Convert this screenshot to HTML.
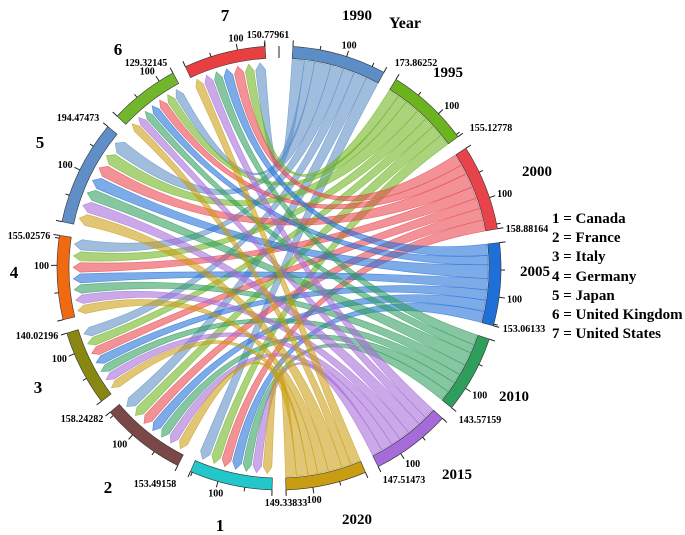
<!DOCTYPE html>
<html><head><meta charset="utf-8"><style>
html,body{margin:0;padding:0;background:#fff;}
svg{display:block;font-family:"Liberation Serif",serif;font-weight:bold;}
</style></head><body>
<svg id="chart" width="685" height="535" viewBox="0 0 685 535" xmlns="http://www.w3.org/2000/svg">
<g id="ribbons"></g>
<g id="tracks"></g>
<g id="labels"></g>
<line x1="279" y1="46" x2="279" y2="58" stroke="#222" stroke-width="1"/>
<text x="405" y="28" font-size="16" text-anchor="middle">Year</text>
<g font-size="15">
<text x="552" y="223">1 = Canada</text>
<text x="552" y="242">2 = France</text>
<text x="552" y="261">3 = Italy</text>
<text x="552" y="281">4 = Germany</text>
<text x="552" y="300">5 = Japan</text>
<text x="552" y="319">6 = United Kingdom</text>
<text x="552" y="338">7 = United States</text>
</g>
</svg>
<script>
const years = ["1990","1995","2000","2005","2010","2015","2020"];
const countries = ["1","2","3","4","5","6","7"];
const yearTotals = [173.86252,155.12778,158.88164,153.06133,143.57159,147.51473,149.33833];
const countryTotals = [153.49158,158.24282,140.02196,155.02576,194.47473,129.32145,150.77961];
const flow1990 = [25,26,22,25,32,20,24];
const flow1995 = [22,23,20,22,28,19,21];
const flow2000 = [22,23,21,23,28,19,23];
const flow2005 = [22,22,20,22,27,18,22];
const flow2010 = [20,21,19,21,26,17,20];
const flow2015 = [21,22,19,21,26,18,21];
const flow2020 = [21,22,19,21,27,18,20];
const matrix = [flow1990,flow1995,flow2000,flow2005,flow2010,flow2015,flow2020];

const yearColors = ["#5b8ec7","#6cb41e","#e8434a","#1f6fd8","#2f9d5c","#a56bd8","#c99d12"];
const countryColors = ["#22c7c9","#7b4848","#878712","#f06a12","#5f8fc6","#71b62c","#e84040"];
// label layout (positions, not data)
const yearNamePos = [[357,20],[448,77],[537,176],[535,276],[514,401],[457,479],[357,524]];
const countryNamePos = [[220,531],[108,493],[38,393],[14,278],[40,148],[118,55],[225,21]];
const yearTotPos = [[416,66],[491,131],[527,232],[524,332],[480,423],[404,483],[286,506]];
const countryTotPos = [[155,487],[82,422],[37,339],[29,239],[78,121],[146,66],[268,38]];

const NS="http://www.w3.org/2000/svg";
const cx=279, cy=268, R=222, RI=210, RL=209;
const GAP=3.6, TOPGAP=7.2;
const grand = yearTotals.reduce((a,b)=>a+b,0)+countryTotals.reduce((a,b)=>a+b,0);
const K=(360-13*GAP-TOPGAP)/grand;
function pt(r,deg){const t=deg*Math.PI/180;return [cx+r*Math.sin(t),cy-r*Math.cos(t)];}
function mk(tag,attrs,parent){const e=document.createElementNS(NS,tag);for(const k in attrs)e.setAttribute(k,attrs[k]);parent.appendChild(e);return e;}

const ySec=[],cSec=[];
let a=TOPGAP/2;
yearTotals.forEach(v=>{ySec.push([a,a+v*K]);a+=v*K+GAP;});
countryTotals.forEach(v=>{cSec.push([a,a+v*K]);a+=v*K+GAP;});

function arcPath(r1,r2,s,e){
  const p1=pt(r2,s),p2=pt(r2,e),p3=pt(r1,e),p4=pt(r1,s);const lg=(e-s)>180?1:0;
  return `M${p1[0]},${p1[1]}A${r2},${r2} 0 ${lg} 1 ${p2[0]},${p2[1]}L${p3[0]},${p3[1]}A${r1},${r1} 0 ${lg} 0 ${p4[0]},${p4[1]}Z`;
}

const ySub = matrix.map((row,i)=>{const s=row.reduce((x,y)=>x+y,0);const span=ySec[i][1]-ySec[i][0];let cur=ySec[i][0];const res=new Array(7);
  for(let j=6;j>=0;j--){const w=row[j]/s*span;res[j]=[cur,cur+w];cur+=w;}return res;});
const cSub = countries.map((c,j)=>{let s=0;for(let i=0;i<7;i++)s+=matrix[i][j];const span=cSec[j][1]-cSec[j][0];let cur=cSec[j][0];const res=new Array(7);
  for(let i=6;i>=0;i--){const w=matrix[i][j]/s*span;res[i]=[cur,cur+w];cur+=w;}return res;});

const rg=document.getElementById('ribbons');
for(let i=0;i<7;i++){for(let j=0;j<7;j++){
  const [s0,s1]=ySub[i][j];
  let [t0,t1]=cSub[j][i];
  const pad=(t1-t0)*0.08; t0+=pad; t1-=pad;
  const tip=RI-4, base=RI-11;
  const A=pt(RL,s0),B=pt(RL,s1),C=pt(base,t0),M=pt(tip,(t0+t1)/2),D=pt(base,t1);
  const d=`M${A[0]},${A[1]}A${RL},${RL} 0 0 1 ${B[0]},${B[1]}Q${cx},${cy} ${C[0]},${C[1]}L${M[0]},${M[1]}L${D[0]},${D[1]}Q${cx},${cy} ${A[0]},${A[1]}Z`;
  const p=mk('path',{d:d,fill:yearColors[i],'fill-opacity':0.58,stroke:yearColors[i],'stroke-opacity':0.7,'stroke-width':0.6},rg);
  
  
}}

const tg=document.getElementById('tracks'), lg=document.getElementById('labels');
function drawSector(sec,total,color,name,namePos,totPos,kind){
  const g=mk('g',{},tg);
  
  
  const p=mk('path',{d:arcPath(RI,R,sec[0],sec[1]),fill:color,stroke:'#333','stroke-width':0.6},g);
  
  
  for(let v=0;v<total;v+=50){const ang=sec[0]+v*K;const len=(v%100===0)?6:4;const q1=pt(R,ang),q2=pt(R+len,ang);
    const l=mk('line',{x1:q1[0],y1:q1[1],x2:q2[0],y2:q2[1],stroke:'#222','stroke-width':1},g);
    
    }
  const q1=pt(R,sec[1]),q2=pt(R+6,sec[1]);
  const el=mk('line',{x1:q1[0],y1:q1[1],x2:q2[0],y2:q2[1],stroke:'#222','stroke-width':1},g);
  
  
  const ang=sec[0]+100*K, sn=Math.sin(ang*Math.PI/180), cs=Math.cos(ang*Math.PI/180);
  const hp=pt(R+8,ang);
  const anc = sn>0.35?'start':(sn<-0.35?'end':'middle');
  const h=mk('text',{x:hp[0],y:hp[1]+3.5-4*cs,'font-size':10,'text-anchor':anc},lg);h.textContent='100';
  
  
  const t=mk('text',{x:totPos[0],y:totPos[1],'font-size':10,'text-anchor':'middle'},lg);t.textContent=total.toFixed(5);
  
  
  const n=mk('text',{x:namePos[0],y:namePos[1],'font-size':kind==='year'?15:17,'text-anchor':'middle'},lg);n.textContent=name;
  
  
}
years.forEach((y,i)=>drawSector(ySec[i],yearTotals[i],yearColors[i],y,yearNamePos[i],yearTotPos[i],'year'));
countries.forEach((c,j)=>drawSector(cSec[j],countryTotals[j],countryColors[j],c,countryNamePos[j],countryTotPos[j],'country'));
</script>
</body></html>
